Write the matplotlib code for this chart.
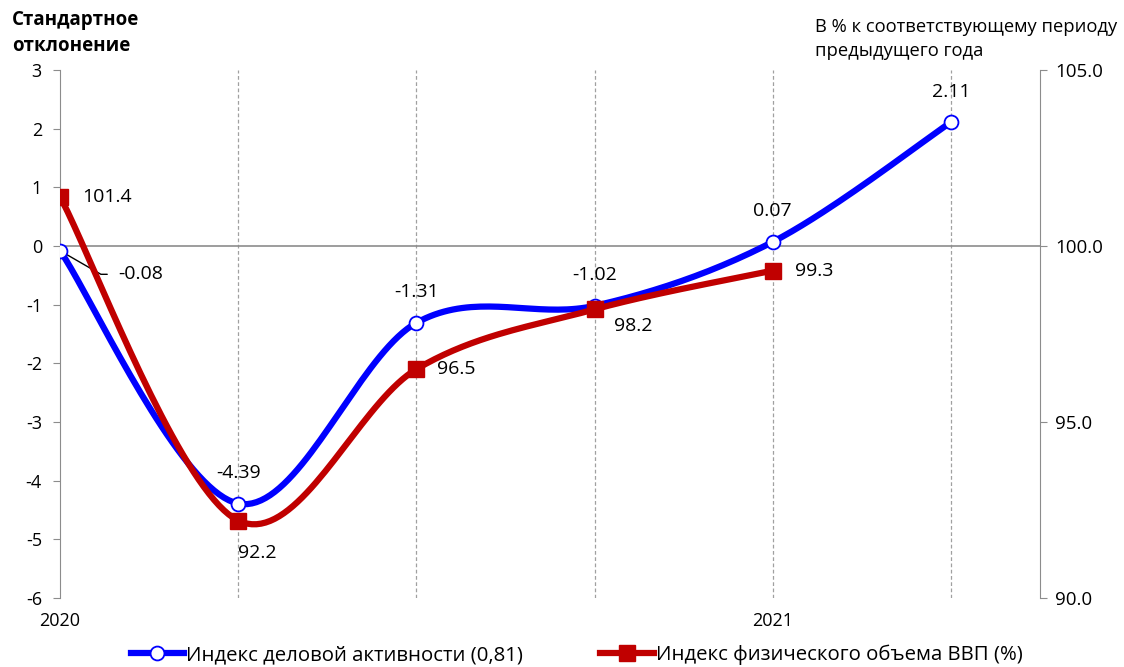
import numpy as np
import matplotlib
matplotlib.use("Agg")
import matplotlib.pyplot as plt
from matplotlib.lines import Line2D

plt.rcParams['font.family'] = ['Open Sans', 'DejaVu Sans']

x_labels = ["2020", "", "", "", "2021", ""]
activity = [-0.08, -4.39, -1.31, -1.02, 0.07, 2.11]
gdp = [101.4, 92.2, 96.5, 98.2, 99.3]
activity_labels = ["-0.08", "-4.39", "-1.31", "-1.02", "0.07", "2.11"]
gdp_labels = ["101.4", "92.2", "96.5", "98.2", "99.3"]


def smooth(xs, ys, n=40):
    xs = np.asarray(xs, float); ys = np.asarray(ys, float)
    P = np.column_stack([xs, ys])
    out = []
    for i in range(len(P) - 1):
        p0 = P[i - 1] if i > 0 else P[i]
        p1 = P[i]; p2 = P[i + 1]
        p3 = P[i + 2] if i + 2 < len(P) else P[i + 1]
        c1 = p1 + (p2 - p0) / 6.0
        c2 = p2 - (p3 - p1) / 6.0
        t = np.linspace(0, 1, n)[:, None]
        seg = (1 - t) ** 3 * p1 + 3 * (1 - t) ** 2 * t * c1 + 3 * (1 - t) * t ** 2 * c2 + t ** 3 * p2
        out.append(seg if i == 0 else seg[1:])
    s = np.vstack(out)
    return s[:, 0], s[:, 1]


fig = plt.figure(figsize=(11.24, 6.67), dpi=100)
ax = fig.add_axes([60 / 1124, 1 - 598 / 667, 980 / 1124, 528 / 667])
ax2 = ax.twinx()

xa = np.arange(len(activity))
xg = np.arange(len(gdp))

ax.set_xlim(0, 5.5)
ax.set_ylim(-6, 3)
ax2.set_ylim(90, 105)

gray = '#8c8c8c'
for xv in range(1, 6):
    ax.axvline(xv, color='#a0a0a0', lw=0.9, ls=(0, (3, 2)), zorder=1)
ax.axhline(0, color=gray, lw=1.2, zorder=1)

for s in ['top', 'bottom', 'right']:
    ax.spines[s].set_visible(False)
for s in ['top', 'bottom', 'left']:
    ax2.spines[s].set_visible(False)
ax.spines['left'].set_color(gray)
ax2.spines['right'].set_color(gray)

ax.set_yticks(range(-6, 4))
ax.set_yticklabels([str(v) for v in range(-6, 4)])
ax.tick_params(axis='y', length=5, color=gray, labelsize=13, pad=8)
ax2.set_yticks([90, 95, 100, 105])
ax2.set_yticklabels(["90.0", "95.0", "100.0", "105.0"])
ax2.tick_params(axis='y', length=5, color=gray, labelsize=13.5, pad=6)
ax.set_xticks(xa)
ax.set_xticklabels(x_labels)
ax.tick_params(axis='x', length=0, labelsize=13, pad=10)

bx, by = smooth(xa, activity)
gx, gy = smooth(xg, gdp)
blue = '#0000FF'
red = '#C00000'
ax2.set_zorder(ax.get_zorder() + 1)
ax.patch.set_visible(False)

ax.plot(bx, by, color=blue, lw=4.5, solid_capstyle='round', zorder=3)
ax.plot(xa, activity, ls='none', marker='o', ms=10, mfc='white', mec=blue, mew=1.3, zorder=4)
ax2.plot(gx, gy, color=red, lw=4.5, solid_capstyle='round', zorder=3)
ax2.plot(xg, gdp, ls='none', marker='s', ms=11, mfc=red, mec=red, zorder=4)

fs = 14
ax.annotate(activity_labels[0], xy=(xa[0], activity[0]), xytext=(42, -17), textcoords='offset points',
            ha='left', va='center', fontsize=fs,
            arrowprops=dict(arrowstyle='-', color='black', lw=1,
                            connectionstyle='angle,angleA=0,angleB=-30,rad=0',
                            shrinkA=6, shrinkB=2, relpos=(0, 0.5)))
for i in range(1, len(activity)):
    ax.annotate(activity_labels[i], xy=(xa[i], activity[i]), xytext=(0, 22), textcoords='offset points',
                ha='center', va='center', fontsize=fs)

gdp_offsets = [(16, 0), (0, -23), (15, 0), (14, -12), (16, 0)]
for i in range(len(gdp)):
    ox, oy = gdp_offsets[i]
    ax2.annotate(gdp_labels[i], xy=(xg[i], gdp[i]), xytext=(ox, oy), textcoords='offset points',
                 ha='left', va='center', fontsize=fs)

fig.text(12 / 1124, 1 - 33 / 667, "Стандартное\nотклонение", fontsize=13.5, fontweight='bold',
         ha='left', va='center', linespacing=1.45)
fig.text(815 / 1124, 1 - 39 / 667, "В % к соответствующему периоду\nпредыдущего года", fontsize=13.2,
         ha='left', va='center', linespacing=1.5)

h1 = Line2D([], [], color=blue, lw=4.5, marker='o', ms=10, mfc='white', mec=blue, mew=1.3)
h2 = Line2D([], [], color=red, lw=4.5, marker='s', ms=11, mfc=red, mec=red)
fig.legend([h1, h2], ["Индекс деловой активности (0,81)", "Индекс физического объема ВВП (%)"],
           loc='center', bbox_to_anchor=(0.513, 1 - 655 / 667), ncol=2, frameon=False, fontsize=14.7,
           handlelength=2.6, handletextpad=0.1, columnspacing=3.8)

fig.savefig("out.png", dpi=100)
